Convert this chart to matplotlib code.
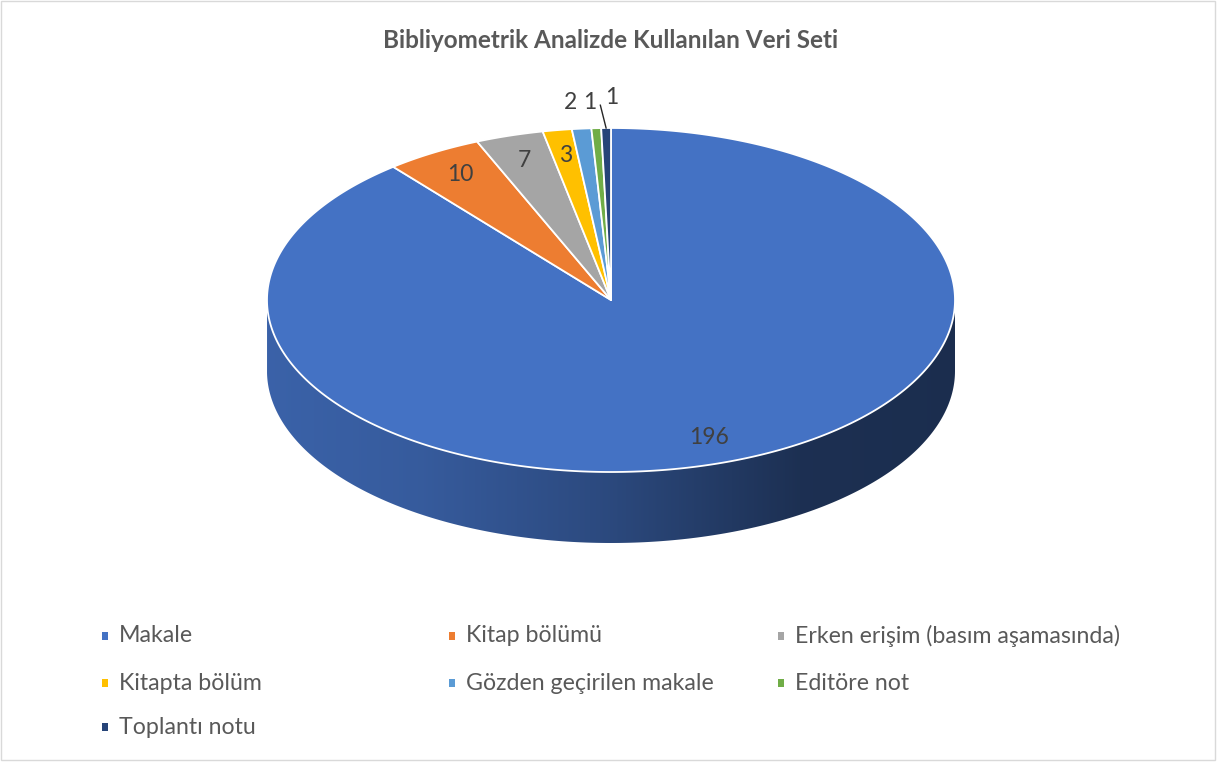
import numpy as np
import matplotlib
matplotlib.use('Agg')
import matplotlib.pyplot as plt
from matplotlib.patches import Polygon, Rectangle
from matplotlib.colors import to_rgb

plt.rcParams['font.family'] = ['Lato', 'DejaVu Sans']

# data
categories = ['Makale', 'Kitap bölümü', 'Erken erişim (basım aşamasında)',
              'Kitapta bölüm', 'Gözden geçirilen makale', 'Editöre not',
              'Toplantı notu']
values = [196, 10, 7, 3, 2, 1, 1]
colors = ['#4472C4', '#ED7D31', '#A5A5A5', '#FFC000', '#5B9BD5', '#70AD47', '#264478']
title = 'Bibliyometrik Analizde Kullanılan Veri Seti'

# geometry of the 3d pie (pixel space)
W, H = 1217, 762
cx, cy = 611, 300
rx, ry = 344, 172
depth = 71

fig = plt.figure(figsize=(W / 100, H / 100), dpi=100)
ax = fig.add_axes([0, 0, 1, 1])
ax.set_xlim(0, W)
ax.set_ylim(H, 0)
ax.axis('off')

# chart border
ax.add_patch(Rectangle((1, 1), W - 3, H - 3, fill=False, ec='#d9d9d9', lw=1))


def pt(t, dy=0):
    t = np.radians(t)
    return cx + rx * np.cos(t), cy - ry * np.sin(t) + dy


total = sum(values)
starts = []
a = 90.0
for v in values:
    span = v / total * 360
    starts.append((a, a - span))
    a -= span

# side walls (front half only, t in [180, 360])
shade_x = [cx - rx, cx - 190, cx, cx + 190, cx + rx]
shade_f = [0.86, 0.80, 0.64, 0.42, 0.40]
xs_img = np.linspace(0, W, 600)
fac = np.interp(xs_img, shade_x, shade_f)
for (t0, t1), col in zip(starts, colors):
    ts = np.linspace(t0, t1, 400)
    ts_n = np.mod(ts, 360)
    vis = ts[(ts_n >= 180) & (ts_n <= 360)]
    if len(vis) < 2:
        continue
    top = [pt(t) for t in vis]
    bot = [pt(t, depth) for t in vis[::-1]]
    poly = Polygon(top + bot, closed=True, fc='none', ec='none')
    ax.add_patch(poly)
    rgb = np.array(to_rgb(col))
    img = (fac[None, :, None] * rgb[None, None, :])
    im = ax.imshow(img, extent=[0, W, H, 0], aspect='auto', zorder=1)
    im.set_clip_path(poly)

# top face
for (t0, t1), col in zip(starts, colors):
    ts = np.linspace(t0, t1, max(int(abs(t0 - t1) * 3), 4))
    pts = [(cx, cy)] + [pt(t) for t in ts]
    ax.add_patch(Polygon(pts, closed=True, fc=col, ec='white', lw=1.3,
                         joinstyle='round', zorder=2))

# data labels
inside = [True, True, True, True, False, False, False]
nudge = [(0, 0), (0, 0), (0, 0), (0, 0), (-7, 0), (-4, 0), (6, -5)]
for i, ((t0, t1), v) in enumerate(zip(starts, values)):
    tm = (t0 + t1) / 2
    k = 0.85 if inside[i] else 1.15
    x = cx + rx * k * np.cos(np.radians(tm)) + nudge[i][0]
    y = cy - ry * k * np.sin(np.radians(tm)) + nudge[i][1]
    ax.text(x, y, str(v), ha='center', va='center', fontsize=16.5,
            color='#404040', zorder=5)
    if i == len(values) - 1:
        rx0, ry0 = pt(tm)
        ax.plot([x - 11, rx0], [y + 8, ry0], color='#262626', lw=1, zorder=5)

# title
ax.text(cx, 40, title, ha='center', va='center', fontsize=17.5,
        fontweight='bold', color='#595959')

# legend
col_x = [105, 452, 781]
row_y = [636, 683, 727]
for i, (name, col) in enumerate(zip(categories, colors)):
    x = col_x[i % 3]
    y = row_y[i // 3]
    ax.add_patch(Rectangle((x - 3, y - 4), 6, 8, fc=col, ec='none'))
    ax.text(x + 14, y, name, ha='left', va='center', fontsize=16.7,
            color='#595959')

fig.savefig('out.png', dpi=100)
